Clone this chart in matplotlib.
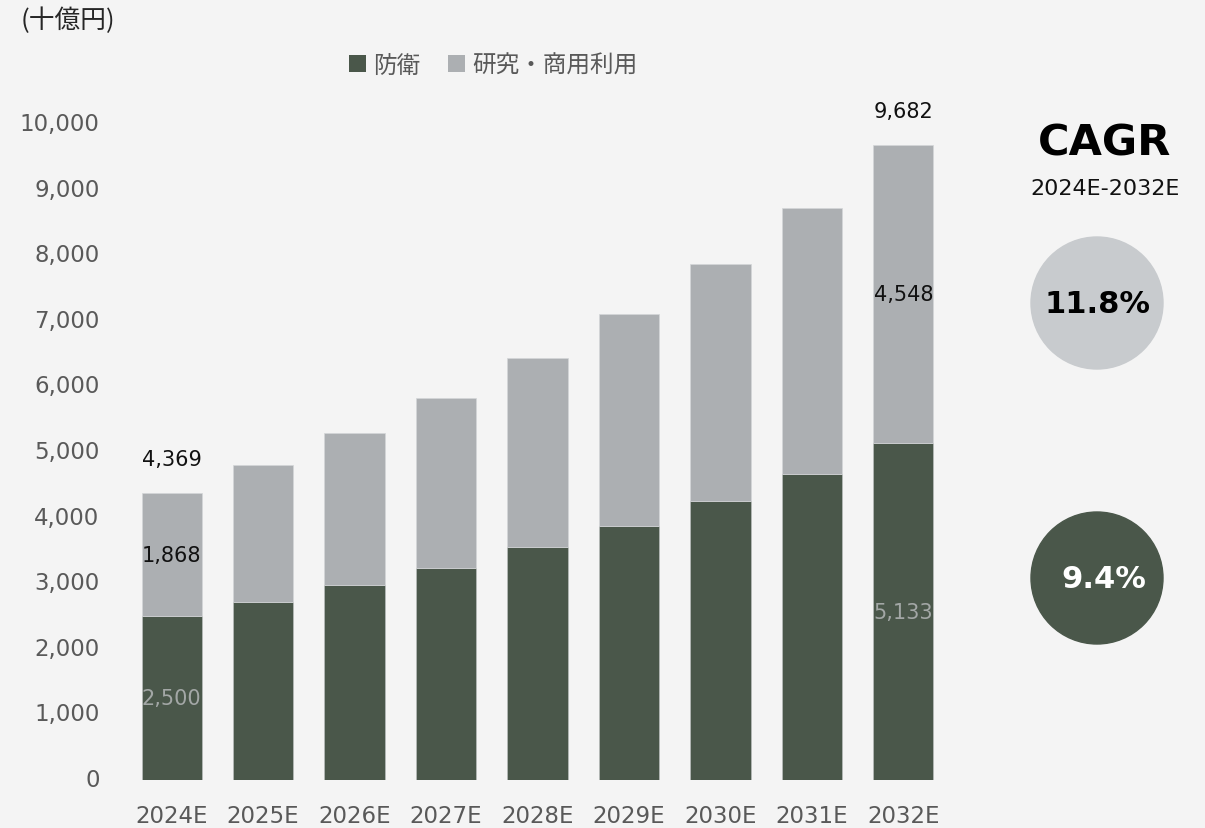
import numpy as np
import matplotlib
matplotlib.use("Agg")
import matplotlib.pyplot as plt
from matplotlib.patches import Patch, Circle
from matplotlib.transforms import ScaledTranslation

plt.rcParams['font.family'] = ['DejaVu Sans', 'Noto Sans CJK JP']

# market size by segment (billion yen)
years = ['2024E', '2025E', '2026E', '2027E', '2028E', '2029E', '2030E', '2031E', '2032E']
defense = [2500.4, 2720, 2965, 3235, 3545, 3875, 4255, 4670, 5133.4]
research = [1868.4, 2085, 2325, 2595, 2890, 3235, 3615, 4055, 4548.4]
cagr_research = '11.8%'
cagr_defense = '9.4%'

BG = '#f4f4f4'
DARK = '#4a574a'
GRAY = '#acafb2'
LIGHT = '#c8cbce'
TICK = '#595959'
CJK = ['Noto Sans CJK JP', 'DejaVu Sans']

W, H = 1205, 829
fig = plt.figure(figsize=(W / 100, H / 100), dpi=100, facecolor=BG)
ax = fig.add_axes([126 / W, (H - 781) / H, 823 / W, 656 / H])
ax.set_facecolor(BG)

x = np.arange(len(years))
totals = np.array(defense) + np.array(research)
ax.bar(x, defense, width=0.66, color=DARK, edgecolor='#b9bcbc', linewidth=0.5, zorder=2)
ax.bar(x, research, width=0.66, bottom=defense, color=GRAY, edgecolor='#d4d6d8', linewidth=0.5, zorder=2)

ax.set_xlim(-0.5, len(years) - 0.5)
ax.set_ylim(0, 10000)
ax.set_yticks(np.arange(0, 10001, 1000))
ax.set_yticklabels([f'{v:,}' for v in range(0, 10001, 1000)])
ax.set_xticks(x)
ax.set_xticklabels(years)
ax.tick_params(axis='y', length=0, pad=19, labelsize=16.5, labelcolor=TICK)
ax.tick_params(axis='x', length=0, pad=17, labelsize=16.5, labelcolor=TICK)
for lbl in ax.get_yticklabels():
    lbl.set_transform(lbl.get_transform() + ScaledTranslation(0, 3 / 100, fig.dpi_scale_trans))
for s in ax.spines.values():
    s.set_visible(False)

# value labels on first and last year
for i in (0, len(years) - 1):
    ax.annotate(f'{totals[i]:,.0f}', (x[i], totals[i]), xytext=(0, 24.5), textcoords='offset points',
                ha='center', va='center', fontsize=15, color='#111111')
    ax.text(x[i], defense[i] + research[i] / 2, f'{research[i]:,.0f}', ha='center', va='center',
            fontsize=15, color='#111111', zorder=3)
    ax.text(x[i], defense[i] / 2, f'{defense[i]:,.0f}', ha='center', va='center',
            fontsize=15, color='#a3a7a6', zorder=3)

handles = [Patch(facecolor=DARK, label='防衛'), Patch(facecolor=GRAY, label='研究・商用利用')]
leg = fig.legend(handles=handles, loc='center', bbox_to_anchor=(493 / W, 1 - 66 / H), ncol=2,
                 frameon=False, prop={'family': CJK, 'size': 17}, handlelength=0.72, handleheight=0.7,
                 handletextpad=0.3, columnspacing=1.2, borderpad=0, borderaxespad=0)
for t in leg.get_texts():
    t.set_color(TICK)

# pixel-space overlay for the side panel and unit
ov = fig.add_axes([0, 0, 1, 1])
ov.set_xlim(0, W)
ov.set_ylim(H, 0)
ov.axis('off')
ov.patch.set_alpha(0)

ov.text(21, 21, '(十億円)', family=CJK, fontsize=18.5, color='#262626', ha='left', va='center')
ov.text(1105, 143, 'CAGR', fontsize=31, fontweight='bold', color='black', ha='center', va='center')
ov.text(1105, 189, '2024E-2032E', fontsize=16, color='#111111', ha='center', va='center')
ov.add_patch(Circle((1097, 304), 66, color=LIGHT))
ov.add_patch(Circle((1097, 579), 66, color=DARK))
ov.text(1097, 304, cagr_research, fontsize=22, fontweight='bold', color='black', ha='center', va='center')
ov.text(1104, 580, cagr_defense, fontsize=22, fontweight='bold', color='white', ha='center', va='center')

fig.savefig('out.png', dpi=100, facecolor=BG)
